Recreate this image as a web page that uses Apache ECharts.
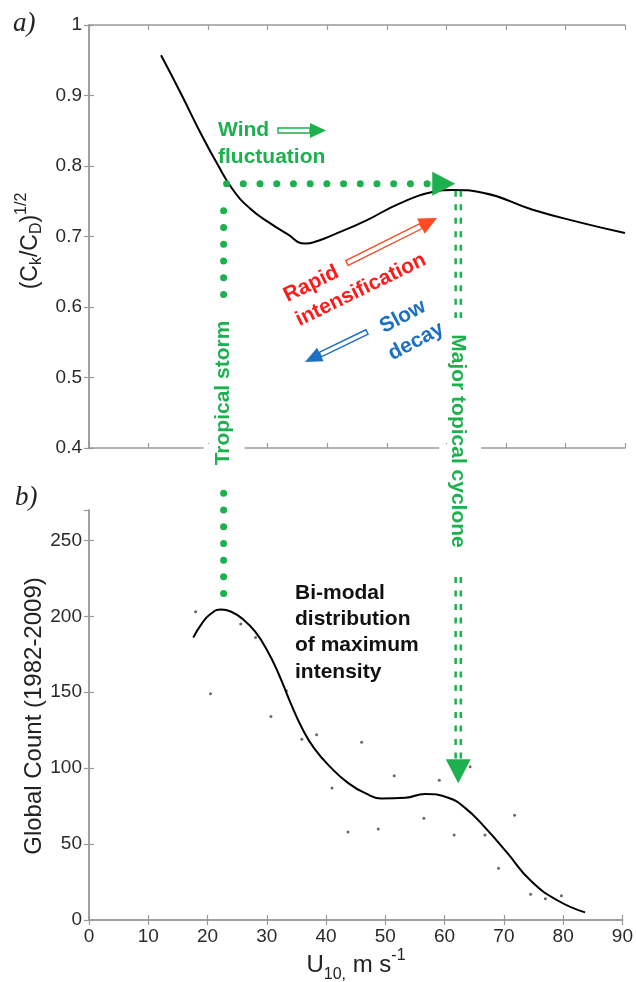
<!DOCTYPE html>
<html><head><meta charset="utf-8">
<script src="https://cdn.jsdelivr.net/npm/echarts@6/dist/echarts.min.js"></script>
<style>html,body{margin:0;padding:0;background:#fff}#c{width:636px;height:982px}</style>
</head><body><div id="c"></div>
<script>
// ---- panel a) : (Ck/CD)^1/2 versus U10
const topU     = [12.1,15.6,18.6,21.6,24.2,27,30,33.2,36.3,38.5,40.9,46.6,52.2,57.7,61,66.1,74.5,82.9,90];
const topRatio = [0.957,0.900,0.849,0.802,0.766,0.740,0.721,0.704,0.690,0.694,0.702,0.723,0.747,0.763,0.766,0.762,0.738,0.719,0.705];
// ---- panel b) : global count of maximum intensity
const fitU     = [17.6,19,20.5,22.3,24,26,28,30,32,34,36,38,40.9,43.8,46.6,49.3,53.4,56.7,60.6,63.4,66.8,70.6,74.5,79,83.7];
const fitCount = [186,195,201.5,204.5,203,198,190,178,162,143,126,113,100,90,83.5,80,80.5,83,80.5,74,61,44,26,13,5];
const obsU     = [18,20.5,25.6,28.1,30.7,33.3,35.9,38.4,41,43.7,46,48.8,51.5,56.5,59.1,61.6,64.3,66.8,69.1,71.8,74.5,77,79.7];
const obsCount = [203,149,195,186,134,151,119,122,87,58,117,60,95,67,92,56,101,56,34,69,17,14,16];
// ---- ticks
const xTickValues = [0,10,20,30,40,50,60,70,80,90];
const yTicksA = [0.4,0.5,0.6,0.7,0.8,0.9,1];
const yTicksB = [0,50,100,150,200,250];
// ---- annotation anchors (data units)
const stormU = 22.6, stormLevel = 0.775;
const majorU = 62.0, arrowTipU = 61.5, downArrowCount = 90;

const FONT = '"Liberation Sans", Arial, sans-serif';
const GREEN = '#1cb04f', RED = '#ff1a1a', REDA = '#ff4a26', BLUE = '#1d6fc4';
const AX = '#9a9a9a';

function axisBase(extra){
  return Object.assign({
    type:'value', splitLine:{show:false},
    axisLine:{show:true, lineStyle:{color:AX, width:1.5}},
    axisTick:{show:true, inside:true, length:5, lineStyle:{color:AX, width:1.2}},
    axisLabel:{show:false}
  }, extra);
}
const lab = {show:true, color:'#2a2a2a', fontSize:19, fontFamily:FONT};

const option = {
  animation:false,
  backgroundColor:'#fff',
  grid:[{left:89, top:25, width:536, height:423},{left:89, top:510, width:536, height:410}],
  xAxis:[
    axisBase({gridIndex:0, position:'bottom', min:0, max:90, interval:10}),
    axisBase({gridIndex:0, position:'top', min:0, max:90, interval:10}),
    axisBase({gridIndex:1, position:'bottom', min:0, max:90, interval:10,
      axisLabel:Object.assign({}, lab, {margin:7, formatter:v=>xTickValues.includes(v)?String(v):''})}),
    axisBase({gridIndex:1, position:'top', min:0, max:90, interval:10})
  ],
  yAxis:[
    axisBase({gridIndex:0, position:'left', min:0.4, max:1, interval:0.1,
      axisLabel:Object.assign({}, lab, {margin:7, formatter:v=>{const r=Math.round(v*10)/10; return yTicksA.includes(r)?(r===1?'1':r.toFixed(1)):'';}})}),
    axisBase({gridIndex:0, position:'right', min:0.4, max:1, interval:0.1}),
    axisBase({gridIndex:1, position:'left', min:0, max:270, interval:50,
      axisLabel:Object.assign({}, lab, {margin:7, showMaxLabel:false, formatter:v=>yTicksB.includes(v)?String(v):''})}),
    axisBase({gridIndex:1, position:'right', min:0, max:270, interval:50})
  ],
  series:[
    {type:'line', xAxisIndex:0, yAxisIndex:0, data:topU.map((u,i)=>[u,topRatio[i]]),
     smooth:0.5, showSymbol:false, lineStyle:{color:'#000', width:2}, z:5},
    {type:'line', xAxisIndex:2, yAxisIndex:2, data:fitU.map((u,i)=>[u,fitCount[i]]),
     smooth:0.5, showSymbol:false, lineStyle:{color:'#000', width:2}, z:5},
    {type:'scatter', xAxisIndex:2, yAxisIndex:2, data:obsU.map((u,i)=>[u,obsCount[i]]),
     symbolSize:3, itemStyle:{color:'#444'}, z:4}
  ]
};

const chart = echarts.init(document.getElementById('c'));
chart.setOption(option);

const pA = (u,v)=>chart.convertToPixel({xAxisIndex:0,yAxisIndex:0},[u,v]);
const pB = (u,c)=>chart.convertToPixel({xAxisIndex:2,yAxisIndex:2},[u,c]);

const ctx = document.createElement('canvas').getContext('2d');
function measure(t, size, weight, family){ ctx.font = (weight||'normal')+' '+size+'px '+(family||FONT); return ctx.measureText(t).width; }

const G = [];
function txt(x,y,text,o){
  o=o||{};
  const size=o.size||19, weight=o.weight||'normal', fam=o.family||FONT;
  G.push({type:'text', x:x, y:y, rotation:o.rot||0, z:100,
    style:{text:text, font:(o.style||'normal')+' '+weight+' '+size+'px '+fam, fill:o.fill||'#000',
      align:o.align||'left', verticalAlign:o.va||'middle', textAlign:o.align||'left', textVerticalAlign:o.va||'middle',
      lineHeight:o.lh||size*1.2}});
}
// segments: [text,size,dy]; composed along direction theta, centered at (x0,y0)
function compose(x0,y0,theta,segs,weight,fill){
  const ws = segs.map(s=>measure(s[0],s[1],weight));
  const W = ws.reduce((a,b)=>a+b,0);
  let sx = -W/2;
  const c=Math.cos(theta), s=Math.sin(theta);
  segs.forEach((sg,i)=>{
    const dy=sg[2];
    const x = x0 + sx*c + dy*s, y = y0 - sx*s + dy*c;
    txt(x,y,sg[0],{size:sg[1], rot:theta, weight:weight, fill:fill||'#111'});
    sx += ws[i];
  });
}
function line(x1,y1,x2,y2,st){ G.push({type:'line', z:90, shape:{x1,y1,x2,y2}, style:Object.assign({stroke:GREEN, lineWidth:2},st)}); }
function poly(pts,st){ G.push({type:'polygon', z:95, shape:{points:pts}, style:st}); }
function rect(x,y,w,h){ G.push({type:'rect', z:80, shape:{x,y,width:w,height:h}, style:{fill:'#fff'}}); }
function hollowArrow(tail,tip,shaftW,headL,headW,color){
  const dx=tip[0]-tail[0], dy=tip[1]-tail[1], L=Math.hypot(dx,dy);
  const ux=dx/L, uy=dy/L, nx=-uy, ny=ux;
  const bx=tip[0]-ux*headL, by=tip[1]-uy*headL;
  const h=shaftW/2;
  poly([[tail[0]+nx*h,tail[1]+ny*h],[bx+nx*h,by+ny*h],[bx-nx*h,by-ny*h],[tail[0]-nx*h,tail[1]-ny*h]],
       {fill:'#fff', stroke:color, lineWidth:1.4});
  poly([[tip[0],tip[1]],[bx+nx*headW/2,by+ny*headW/2],[bx-nx*headW/2,by-ny*headW/2]],{fill:color});
}

// --- geometry from axes
const corner = pA(stormU, stormLevel);
const xs = corner[0], ys = corner[1];
const xm = pA(majorU, stormLevel)[0];
const tip = pA(arrowTipU, stormLevel);
const aBottom = pA(0,0.4)[1];
const bTop = pB(0,270)[1];

// axis gaps behind vertical labels
rect(xs-20, aBottom-4, 41, 8);
rect(xm-19, aBottom-4, 42, 8);
rect(xm-19, bTop-4, 42, 8);

// horizontal dotted line + arrow
line(xs+3, ys, tip[0]-28, ys, {lineWidth:7, lineDash:[0.01,16.7], lineCap:'round'});
poly([[tip[0],ys],[tip[0]-23,ys-12],[tip[0]-23,ys+12]],{fill:GREEN});

// Tropical storm vertical dotted line
const stormMid = 393;
line(xs, ys+27, xs, stormMid-95, {lineWidth:7, lineDash:[0.01,16.75], lineCap:'round'});
const sb1 = pB(stormU, 281), sb2 = pB(stormU, 212);
line(xs, sb1[1], xs, sb2[1], {lineWidth:7, lineDash:[0.01,16.7], lineCap:'round'});
txt(xs, stormMid, 'Tropical storm', {size:21, weight:'bold', fill:GREEN, rot:Math.PI/2, align:'center'});

// Major cyclone double dashed line + arrow
const majMid = 441;
const dn = pB(majorU, downArrowCount);
[-2.6, 2.6].forEach(off=>{
  line(xm+off, ys+7, xm+off, majMid-123, {lineWidth:2.5, lineDash:[6,7.5]});
  line(xm+off, majMid+136, xm+off, dn[1]-24, {lineWidth:2.5, lineDash:[6,7.5]});
});
poly([[xm, dn[1]],[xm-12.5, dn[1]-24],[xm+12.5, dn[1]-24]],{fill:GREEN});
txt(xm, majMid, 'Major topical cyclone', {size:21, weight:'bold', fill:GREEN, rot:-Math.PI/2, align:'center'});

// Wind fluctuation
txt(218, 143.5, 'Wind\nfluctuation', {size:21, weight:'bold', fill:GREEN, lh:27});
hollowArrow([278,130.5],[326,130.5],5,16,15,GREEN);

// Rapid intensification
const aR = 0.454;
txt(291, 309, 'Rapid\nintensification', {size:21, weight:'bold', fill:RED, rot:aR, lh:27});
hollowArrow([347,263],[437,218],5.5,18,17,REDA);

// Slow decay
const aB = 0.49;
txt(409.5, 329, 'Slow\ndecay', {size:21, weight:'bold', fill:BLUE, rot:aB, lh:28, align:'center'});
hollowArrow([367,332],[305,362],5,17,15,BLUE);

// Bi-modal text
txt(295, 632.5, 'Bi-modal\ndistribution\nof maximum\nintensity', {size:21, weight:'bold', fill:'#111', lh:26.3});

// panel letters
txt(13, 24, 'a)', {size:27, style:'italic', family:'"Liberation Serif", "Times New Roman", serif', fill:'#222'});
txt(15, 498, 'b)', {size:27, style:'italic', family:'"Liberation Serif", "Times New Roman", serif', fill:'#222'});

// axis names
compose(31, 241, Math.PI/2, [['(C',23,0],['k',16,6],['/C',23,0],['D',16,6],[')',23,0],['1/2',16,-9]], 'normal', '#222');
compose(34, 716, Math.PI/2, [['Global Count (1982-2009)',24,0]], 'normal', '#222');
compose(356, 965, 0, [['U',24,0],['10,',16,10],[' m s',24,0],['-1',16,-9]], 'normal', '#222');

chart.setOption({graphic:{elements:G}});
</script></body></html>
